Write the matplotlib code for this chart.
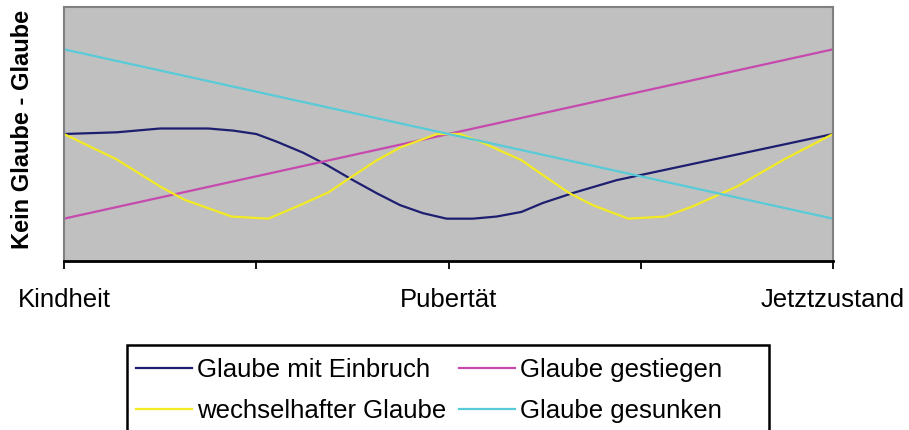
#!/usr/bin/env python3
"""Glaubenskurven: Kindheit -> Pubertät -> Jetztzustand."""
import matplotlib
matplotlib.use("Agg")
import matplotlib.pyplot as plt
from matplotlib.patches import Rectangle

plt.rcParams["font.family"] = ["Liberation Sans", "DejaVu Sans"]

# Zeitachse 0..4 (Kindheit = 0, Pubertät = 2, Jetztzustand = 4)
x_ticks = [0, 1, 2, 3, 4]
x_labels = ["Kindheit", "", "Pubertät", "", "Jetztzustand"]

# Glaube mit Einbruch
einbruch_x = [0, 0.274, 0.5, 0.75, 0.88, 1.0, 1.106, 1.243, 1.366, 1.503, 1.627,
              1.748, 1.867, 1.99, 2.127, 2.25, 2.38, 2.49, 2.65, 2.875, 4.0]
einbruch_y = [3.0, 3.04, 3.13, 3.13, 3.08, 3.0, 2.82, 2.56, 2.27, 1.91, 1.60,
              1.32, 1.13, 1.0, 1.0, 1.05, 1.16, 1.37, 1.61, 1.91, 3.0]

# Glaube gestiegen / gesunken (Geraden)
gerade_x = [0, 4]
gestiegen_y = [1, 5]
gesunken_y = [5, 1]

# wechselhafter Glaube
wechsel_x = [0, 0.274, 0.5, 0.625, 0.872, 1.063, 1.228, 1.375, 1.49, 1.627, 1.748,
             1.94, 2.06, 2.18, 2.38, 2.51, 2.63, 2.75, 2.935, 3.126, 3.27, 3.5,
             3.75, 4.0]
wechsel_y = [3.0, 2.40, 1.76, 1.45, 1.05, 1.0, 1.32, 1.62, 1.97, 2.38, 2.68,
             3.0, 3.0, 2.79, 2.38, 1.97, 1.6, 1.32, 1.0, 1.05, 1.29, 1.76,
             2.41, 3.0]

W, H = 909, 430
fig = plt.figure(figsize=(W / 100, H / 100), dpi=100)
ax = fig.add_axes([64 / W, 1 - 261 / H, (833 - 64) / W, (261 - 7) / H])
ax.set_facecolor("#c0c0c0")

l1, = ax.plot(einbruch_x, einbruch_y, color="#1e1e70", lw=1.6, label="Glaube mit Einbruch")
l2, = ax.plot(gerade_x, gestiegen_y, color="#c64aae", lw=1.6, label="Glaube gestiegen")
l3, = ax.plot(wechsel_x, wechsel_y, color="#f2ea22", lw=1.6, label="wechselhafter Glaube")
l4, = ax.plot(gerade_x, gesunken_y, color="#58cad8", lw=1.6, label="Glaube gesunken")

ax.set_xlim(0, 4)
ax.set_ylim(0, 6)
ax.set_yticks([])
ax.set_xticks(x_ticks)
ax.set_xticklabels(x_labels, fontsize=18.5)
ax.tick_params(axis="x", direction="out", length=5.5, width=1.3, pad=14, colors="black")

for side in ("top", "right", "left"):
    ax.spines[side].set_color("#808080")
    ax.spines[side].set_linewidth(1.5)
ax.spines["bottom"].set_color("black")
ax.spines["bottom"].set_linewidth(2)

fig.text(23 / W, 1 - 129 / H, "Kein Glaube - Glaube", rotation=90,
         ha="center", va="center", fontsize=17, fontweight="bold")

# Legende: zweispaltig, Rahmen separat gezeichnet
fig.legend([l1, l3, l2, l4],
           ["Glaube mit Einbruch", "wechselhafter Glaube", "Glaube gestiegen", "Glaube gesunken"],
           ncol=2, loc="upper left", bbox_to_anchor=(136 / W, 1 - 358 / H),
           frameon=False, fontsize=18.5, borderpad=0, borderaxespad=0,
           handlelength=2.18, handletextpad=0.2, columnspacing=0.5, labelspacing=0.65)
fig.patches.append(Rectangle((127 / W, -0.05), (769 - 127) / W, 0.05 + 1 - 345 / H,
                             transform=fig.transFigure, fill=False,
                             edgecolor="black", lw=1.8))

fig.savefig("out.png", dpi=100)
